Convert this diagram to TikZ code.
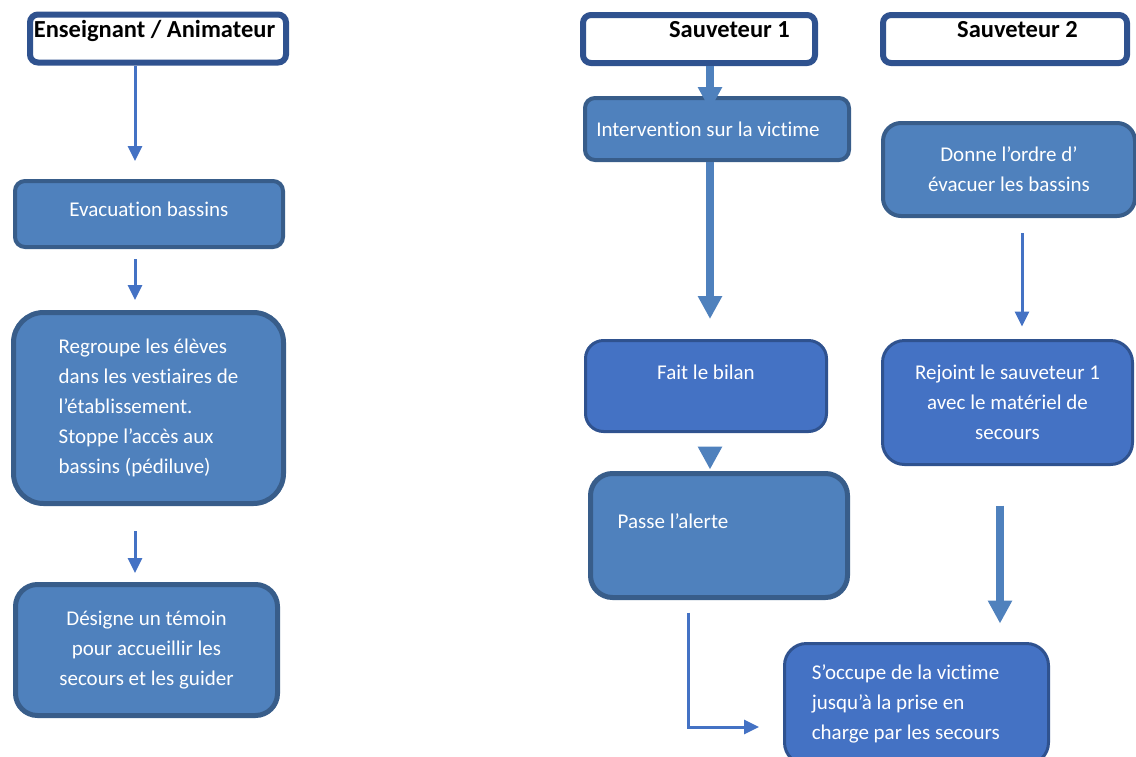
\documentclass[tikz,border=0pt]{standalone}
\usepackage{fontspec}
\setmainfont{Carlito}[Ligatures=NoCommon]
\usepackage{tikz}
\usetikzlibrary{arrows.meta, positioning}
\definecolor{steel}{HTML}{4F81BD}
\definecolor{steeledge}{HTML}{385D8A}
\definecolor{royal}{HTML}{4472C4}
\definecolor{royaledge}{HTML}{2F528F}

\begin{document}
\begin{tikzpicture}[x=1pt, y=-1pt,
    txt/.style={font=\fontsize{21}{30}\selectfont, text=white, align=center},
    head/.style={draw=royaledge, line width=6pt, fill=white, rounded corners=8pt, minimum height=48pt,
        font=\fontsize{24.5}{30}\selectfont\bfseries, text height=16pt, text depth=19pt},
    stepbox/.style={txt, draw=steeledge, fill=steel, line width=4pt, rounded corners=10pt},
    bluebox/.style={txt, draw=royaledge, fill=royal, line width=3pt, rounded corners=18pt},
    thinarrow/.style={-{Triangle[width=14pt,length=15pt]}, royal, line width=3pt},
    thickarrow/.style={-{Triangle[width=23pt,length=23pt]}, steel, line width=8pt}]
    \useasboundingbox (0,0) rectangle (1136,756);

    % colonne gauche : enseignant
    \node[head, minimum width=256pt] (ens) at (158,38.5) {Enseignant / Animateur\hspace*{7pt}};
    \node[stepbox, minimum width=268pt, minimum height=66pt, text height=15pt, text depth=11pt] (evac) at (149,214) {Evacuation bassins};
    \node[stepbox, line width=5pt, rounded corners=30pt, align=left, minimum width=270pt, minimum height=191pt] (regroupe) at (148.5,408) {
        Regroupe les élèves\\
        dans les vestiaires de\\
        l’établissement.\\
        Stoppe l’accès aux\\
        bassins (pédiluve)};
    \node[stepbox, line width=5pt, rounded corners=22pt, minimum width=262pt, minimum height=131pt] (temoin) at (146.5,650) {
        Désigne un témoin\\
        pour accueillir les\\
        secours et les guider};

    \draw[thinarrow, shorten >=18pt] ([xshift=-23pt]ens.south) -- ([xshift=-23pt]ens.south |- evac.north);
    \draw[thinarrow, shorten <=10pt, shorten >=10pt] ([xshift=-14pt]evac.south) -- ([xshift=-14pt]evac.south |- regroupe.north);
    \draw[thinarrow, shorten <=25pt, shorten >=9pt] ([xshift=-13.5pt]regroupe.south) -- ([xshift=-13.5pt]regroupe.south |- temoin.north);

    % colonne du milieu : sauveteur 1
    \node[head, minimum width=232pt] (sauv1) at (699,39) {\hspace*{61pt}Sauveteur 1};
    \node[stepbox, minimum width=264pt, minimum height=62pt] (interv) at (717,129) {Intervention sur la victime\hspace*{18pt}};
    \node[bluebox, minimum width=241pt, minimum height=91pt, text height=15pt, text depth=29pt] (bilan) at (706,386) {Fait le bilan};
    \node[stepbox, line width=5pt, rounded corners=22pt, minimum width=257pt, minimum height=124pt,
        text height=15pt, text depth=30pt] (alerte) at (719,535.5) {Passe l’alerte\hspace*{92pt}};
    \node[bluebox, rounded corners=22pt, align=left, minimum width=264pt, minimum height=121pt] (occupe) at (916.5,704) {
        S’occupe de la victime\hspace*{22pt}\\
        jusqu’à la prise en\\
        charge par les secours};

    \draw[thickarrow, shorten >=-14pt] ([xshift=11pt]sauv1.south) -- ([xshift=11pt]sauv1.south |- interv.north);
    \draw[thickarrow, shorten >=20pt] ([xshift=-7pt]interv.south) -- ([xshift=-7pt]interv.south |- bilan.north);
    \draw[thickarrow, shorten <=16.5pt, shorten >=1.5pt] ([xshift=4pt]bilan.south) -- ([xshift=4pt]bilan.south |- alerte.north);
    \draw[thinarrow, shorten <=12.5pt, shorten >=24pt] ([xshift=-31pt]alerte.south) |- ([yshift=-23pt]occupe.west);

    % colonne droite : sauveteur 2
    \node[head, minimum width=244pt] (sauv2) at (1005,39) {\hspace*{25pt}Sauveteur 2};
    \node[stepbox, rounded corners=18pt, minimum width=252pt, minimum height=93pt] (ordre) at (1009,169.5) {
        Donne l’ordre d’\\
        évacuer les bassins};
    \node[bluebox, rounded corners=22pt, minimum width=250pt, minimum height=124pt] (rejoint) at (1007.5,402.5) {
        Rejoint le sauveteur 1\\
        avec le matériel de\\
        secours};

    \draw[thinarrow, shorten <=15pt, shorten >=12.5pt] ([xshift=13pt]ordre.south) -- ([xshift=13pt]ordre.south |- rejoint.north);
    \draw[thickarrow, shorten <=39.5pt, shorten >=18.5pt] ([xshift=-7.5pt]rejoint.south) -- ([xshift=-7.5pt]rejoint.south |- occupe.north);
\end{tikzpicture}
\end{document}
